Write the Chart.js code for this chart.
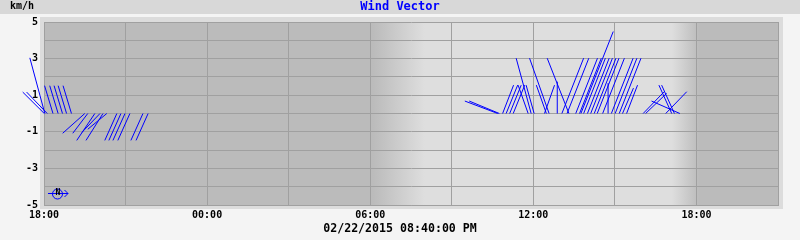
<!DOCTYPE html>
<html>
<head>
<meta charset="utf-8">
<script src="https://cdn.jsdelivr.net/npm/chart.js@4/dist/chart.umd.min.js"></script>
<style>
  body { margin: 0; background: #f4f4f4; }
  #wrap { width: 800px; height: 240px; }
</style>
</head>
<body>
<div id="wrap"><canvas id="windChart" width="800" height="240"></canvas></div>
<script>
// Hora base de cada vector (horas desde las 18:00 del 21/02)
const vecHour = [
  0.03, 0.01, 0.12, 0.33, 0.52, 0.68, 0.83, 1.01,
  1.50, 1.61, 1.87, 2.06, 2.17, 2.31,
  2.68, 2.83, 2.98, 3.16, 3.64, 3.83,
  16.69, 16.75, 16.87, 17.00, 17.13, 17.26,
  17.81, 18.03, 18.48, 18.41, 17.92, 18.58, 19.31, 18.88, 20.75, 19.75,
  19.05, 19.24, 19.56, 19.70, 19.85, 19.99, 20.11, 20.24, 20.35, 20.55, 20.87, 21.01, 21.16,
  21.43, 21.28, 22.04, 22.13, 23.09, 23.19, 23.39, 22.87
];
// Componente este-oeste (km/h)
const vecU = [
  -0.82, -1.18, -1.13, -0.46, -0.46, -0.46, -0.46, -0.46,
  -1.21, -0.82, -0.99, -0.99, -0.93, -1.04,
  -0.66, -0.66, -0.66, -0.66, -0.66, -0.66,
  -1.80, -1.65, 0.60, 0.63, 0.63, 0.63,
  -0.55, -0.44, -0.55, 0.55, -0.82, -1.07, -1.19, 0.00, 0.00, 1.77,
  1.19, 1.19, 1.19, 1.19, 1.19, 1.19, 1.19, 1.19, 1.19, 1.19, 1.19, 1.19, 1.19,
  0.60, 0.60, 1.15, 1.15, -0.70, -0.70, -1.55, 1.15
];
// Componente norte-sur (km/h)
const vecV = [
  3.04, 1.17, 1.17, 1.52, 1.52, 1.52, 1.52, 1.52,
  -1.08, -1.08, -1.47, -1.03, -1.47, -0.86,
  -1.47, -1.47, -1.47, -1.47, -1.47, -1.47,
  0.68, 0.68, 1.55, 1.55, 1.55, 1.55,
  1.55, 1.55, 1.55, 1.55, 3.02, 3.02, 3.02, 1.74, 1.66, 4.48,
  3.02, 3.02, 3.02, 3.02, 3.02, 3.02, 3.02, 3.02, 3.02, 3.02, 3.02, 3.02, 3.02,
  1.55, 1.39, 1.19, 1.10, 1.55, 1.55, 0.68, 1.19
];

// Etiquetas de los ejes
const xTickHours = [0, 6, 12, 18, 24];
const xTickLabels = ['18:00', '00:00', '06:00', '12:00', '18:00'];
const yTickValues = [5, 3, 1, -1, -3, -5];
const yTickLabels = ['5', '3', '1', '-1', '-3', '-5'];

// Salida y puesta del sol (horas desde el inicio)
const sunrise = [12.1, 14.0];
const sunset = [23.1, 24.1];

const HOURS_PER_KMH = 0.672;
const MONO = '"DejaVu Sans Mono", monospace';

// Cada vector: base en y=0 y punta desplazada por (u, v)
const vectorPoints = [];
for (let i = 0; i < vecHour.length; i++) {
    vectorPoints.push({ x: vecHour[i], y: 0 });
    vectorPoints.push({ x: vecHour[i] + vecU[i] * HOURS_PER_KMH, y: vecV[i] });
    vectorPoints.push({ x: vecHour[i], y: null });
}

// Fondo: barra superior, marco y franjas día/noche
const backgroundPlugin = {
    id: 'background',
    beforeDraw(chart) {
        const ctx = chart.ctx;
        const area = chart.chartArea;
        const xs = chart.scales.x;
        ctx.save();
        ctx.fillStyle = '#f4f4f4';
        ctx.fillRect(0, 0, chart.width, chart.height);
        ctx.fillStyle = '#d8d8d8';
        ctx.fillRect(0, 0, chart.width, 14);
        ctx.fillStyle = '#dcdcdc';
        ctx.fillRect(area.left - 4, area.top - 5, area.right - area.left + 9, area.bottom - area.top + 9);

        ctx.fillStyle = '#bbbbbb';
        ctx.fillRect(area.left, area.top, area.right - area.left, area.bottom - area.top);

        const r0 = xs.getPixelForValue(sunrise[0]);
        const r1 = xs.getPixelForValue(sunrise[1]);
        const s0 = xs.getPixelForValue(sunset[0]);
        const s1 = xs.getPixelForValue(sunset[1]);
        const g = ctx.createLinearGradient(r0, 0, s1, 0);
        const w = s1 - r0;
        g.addColorStop(0, '#bbbbbb');
        g.addColorStop((r1 - r0) / w, '#dedede');
        g.addColorStop((s0 - r0) / w, '#dedede');
        g.addColorStop(1, '#bbbbbb');
        ctx.fillStyle = g;
        ctx.fillRect(r0, area.top, s1 - r0, area.bottom - area.top);
        ctx.restore();
    },
    afterDraw(chart) {
        const ctx = chart.ctx;
        ctx.save();
        ctx.textBaseline = 'middle';
        ctx.fillStyle = '#000000';
        ctx.font = 'bold 10px ' + MONO;
        ctx.textAlign = 'left';
        ctx.fillText('km/h', 10, 6);

        ctx.fillStyle = '#0000ff';
        ctx.font = 'bold 12px ' + MONO;
        ctx.textAlign = 'center';
        ctx.fillText('Wind Vector', 400, 7);

        ctx.fillStyle = '#000000';
        ctx.font = 'bold 11.6px ' + MONO;
        ctx.fillText('02/22/2015 08:40:00 PM', 400, 229);

        // Icono de brújula
        ctx.strokeStyle = '#0000ff';
        ctx.lineWidth = 1;
        ctx.beginPath();
        ctx.arc(57.5, 194, 5, 0, Math.PI * 2);
        ctx.moveTo(48, 193.5);
        ctx.lineTo(68, 193.5);
        ctx.moveTo(64.5, 190);
        ctx.lineTo(68, 193.5);
        ctx.lineTo(64.5, 197);
        ctx.stroke();
        ctx.fillStyle = '#000000';
        ctx.font = 'bold 8px ' + MONO;
        ctx.fillText('N', 58, 193);
        ctx.restore();
    }
};

window.onload = function() {
    const ctx = document.getElementById('windChart').getContext('2d');
    new Chart(ctx, {
        type: 'line',
        data: {
            datasets: [{
                label: 'Wind Vector',
                data: vectorPoints,
                borderColor: '#0000ff',
                borderWidth: 1,
                pointRadius: 0,
                spanGaps: false,
                tension: 0,
                clip: false
            }]
        },
        options: {
            responsive: false,
            animation: false,
            devicePixelRatio: 1,
            layout: { padding: { top: 22, right: 22, left: 0, bottom: 0 } },
            plugins: {
                legend: { display: false },
                title: { display: false },
                tooltip: { enabled: false }
            },
            scales: {
                x: {
                    type: 'linear',
                    min: 0,
                    max: 27,
                    afterFit(scale) { scale.height = 35; },
                    grid: { color: '#a0a0a0', drawTicks: false },
                    border: { color: '#a0a0a0' },
                    ticks: {
                        stepSize: 3,
                        autoSkip: false,
                        maxRotation: 0,
                        padding: 4,
                        color: '#000000',
                        font: { family: MONO, size: 10, weight: 'bold' },
                        callback: function(value) {
                            const i = xTickHours.indexOf(value);
                            return i >= 0 ? xTickLabels[i] : '';
                        }
                    }
                },
                y: {
                    min: -5,
                    max: 5,
                    afterFit(scale) { scale.width = 44; },
                    grid: { color: '#a0a0a0', drawTicks: false },
                    border: { color: '#a0a0a0' },
                    ticks: {
                        stepSize: 1,
                        autoSkip: false,
                        padding: 6,
                        color: '#000000',
                        font: { family: MONO, size: 10, weight: 'bold' },
                        callback: function(value) {
                            const i = yTickValues.indexOf(value);
                            return i >= 0 ? yTickLabels[i] : '';
                        }
                    }
                }
            }
        },
        plugins: [backgroundPlugin]
    });
};
</script>
</body>
</html>
